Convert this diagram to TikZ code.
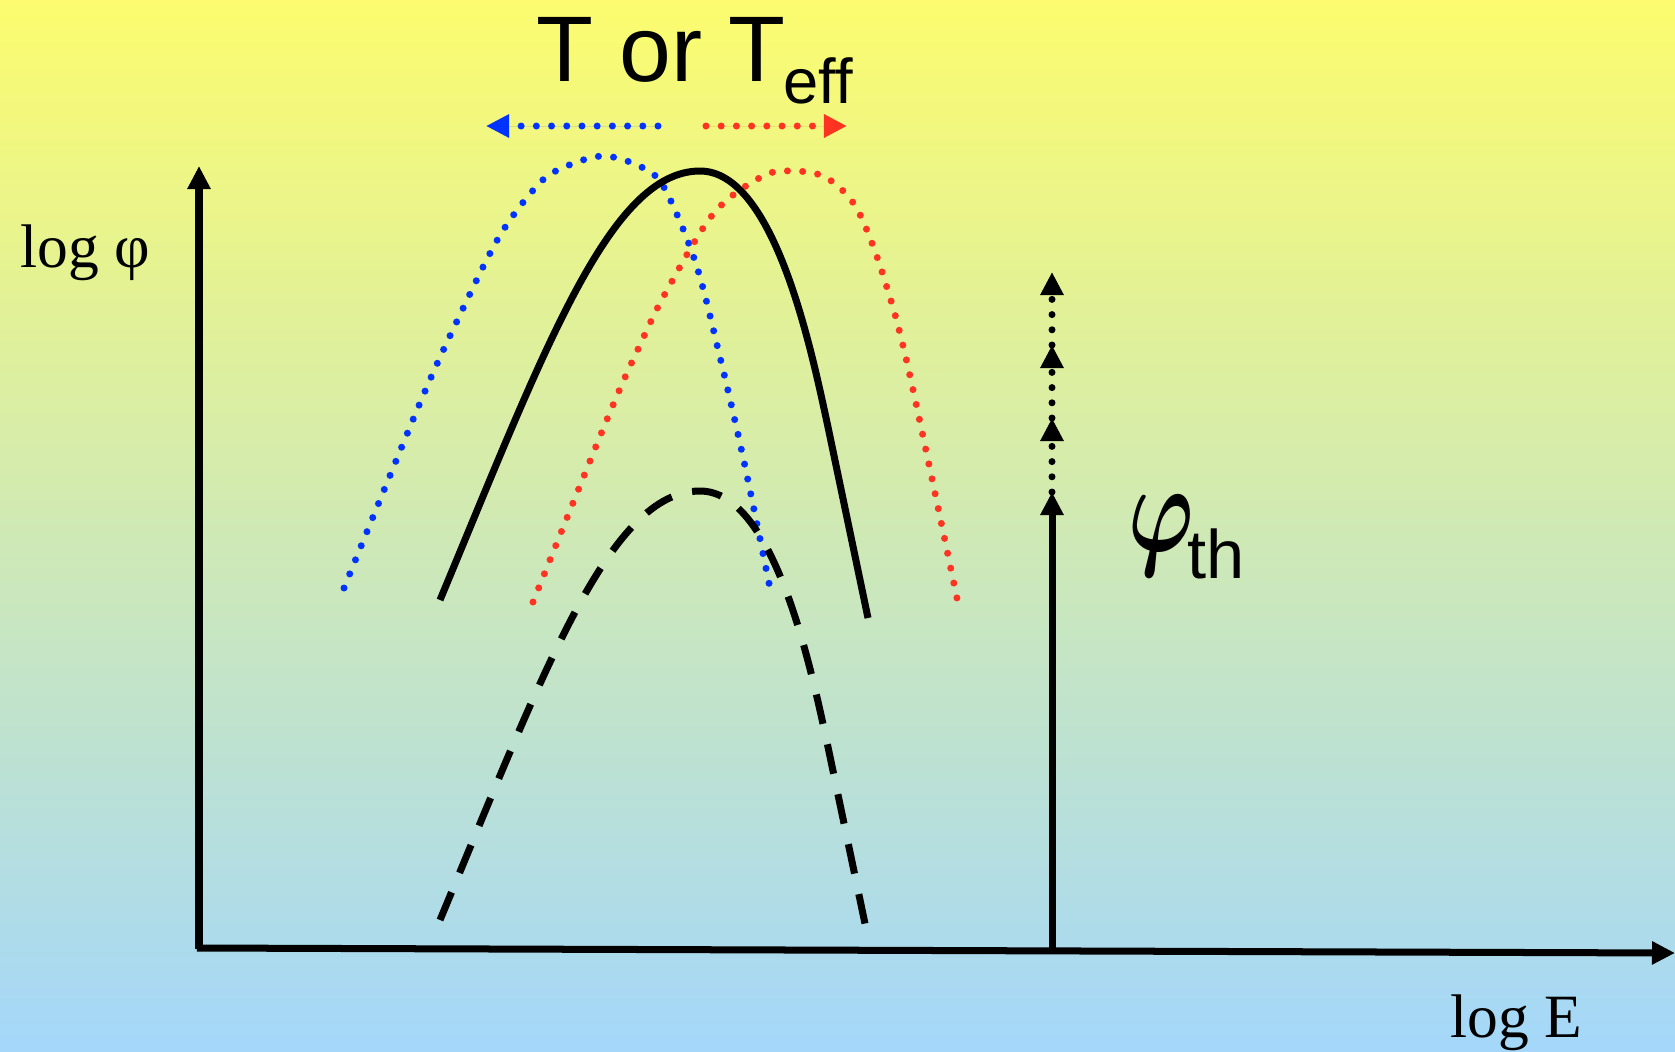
\documentclass[tikz,border=0pt]{standalone}
\usepackage{fontspec}
\usepackage{bm}
\setmainfont{Liberation Serif}
\newfontfamily\arialish{Liberation Sans}
\usetikzlibrary{arrows.meta}
\definecolor{bgtop}{RGB}{252,252,110}
\definecolor{bgmid}{RGB}{212,231,208}
\definecolor{bgbot}{RGB}{164,215,250}
\definecolor{dotblue}{RGB}{0,51,255}
\definecolor{dotred}{RGB}{255,51,34}
\tikzset{
  axisline/.style={line width=0.07cm, -{Triangle[length=0.23cm,width=0.22cm]}},
  maincurve/.style={line width=0.07cm},
  dashcurve/.style={line width=0.07cm, dash pattern=on 0.30cm off 0.21cm},
  dotline/.style={line width=0.07cm, line cap=round, dash pattern=on 0pt off 0.152cm},
  headtip/.style={-{Triangle[length=0.23cm,width=0.22cm]}},
  lbl/.style={inner sep=0pt, anchor=base west},
}
\begin{document}
\begin{tikzpicture}[x=0.01cm, y=-0.01cm]
\useasboundingbox (0,0) rectangle (1675,1051);
\shade[top color=bgtop, middle color=bgmid, bottom color=bgbot] (0,0) rectangle (1675,1051);

% axes
\coordinate (O) at (199,949);
\coordinate (ytip) at (199,166);
\coordinate (xtip) at (1675,953);
\draw[axisline] (O) -- (ytip);
\draw[axisline] (197,948) -- (xtip);

\node[lbl, font=\fontsize{17.5}{20}\selectfont] (ylab) at (20,267) {log φ};
\node[lbl, font=\fontsize{17.5}{20}\selectfont] (xlab) at (1450,1037) {log E};

% title
\node[lbl, font=\arialish\fontsize{26.5}{30}\selectfont] (title) at (536,81) {T or T};
\node[lbl, font=\arialish\fontsize{18}{20}\selectfont] (titlesub) at (783,103) {eff};

% title arrows
\coordinate (bA) at (658,126);
\coordinate (bB) at (486,126);
\coordinate (rA) at (706,126);
\coordinate (rB) at (847,126);
\draw[dotline, draw=dotblue, headtip, fill=dotblue] (bA) -- (bB);
\draw[dotline, draw=dotred, headtip, fill=dotred] (rA) -- (rB);

% blue shifted spectrum
\draw[dotline, draw=dotblue] plot[smooth, tension=0.55] coordinates {
 (344,588) (420,403) (458,319) (499,237) (536,187) (560,169) (604,156)
 (647,170) (667,193) (696,264) (719,353) (743,457) (771,593)};

% red shifted spectrum
\draw[dotline, draw=dotred] plot[smooth, tension=0.55] coordinates {
 (533,602) (608,417) (639,347) (666,292) (714,213) (763,176) (793,171)
 (823,176) (847,195) (863,221) (884,278) (908,367) (959,608)};

% main spectrum
\coordinate (mL) at (440,600);
\coordinate (mP) at (700,171);
\coordinate (mK) at (828,427);
\coordinate (mR) at (868,618);
\draw[maincurve] (mL) .. controls (545,348) and (610,171) .. (mP)
  .. controls (775,171) and (812,353) .. (mK) -- (mR);

% lower spectrum (dashed)
\coordinate (dL) at (440,920);
\coordinate (dP) at (700,491);
\coordinate (dK) at (828,747);
\coordinate (dR) at (868,938);
\draw[dashcurve] (dL) .. controls (545,668) and (610,491) .. (dP)
  .. controls (775,491) and (812,673) .. (dK) -- (dR);

% threshold arrow
\coordinate (t0) at (1052,949);
\coordinate (t1) at (1052,492);
\coordinate (t2) at (1052,418);
\coordinate (t3) at (1052,345);
\coordinate (t4) at (1052,272);
\draw[line width=0.07cm, headtip] (t0) -- (t1);
\draw[dotline, headtip] (t1) -- (t2);
\draw[dotline, headtip] (t2) -- (t3);
\draw[dotline, headtip] (t3) -- (t4);

\node[lbl] (phi) at (1128,551) {\scalebox{2.5}[3.6]{$\bm{\varphi}$}};
\node[lbl, font=\arialish\fontsize{19.5}{22}\selectfont] (th) at (1187,578) {th};
\end{tikzpicture}
\end{document}
